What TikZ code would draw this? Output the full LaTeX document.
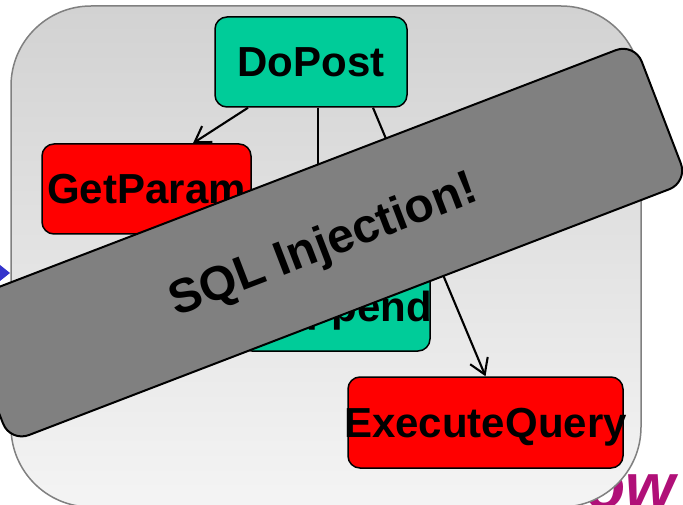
\documentclass[tikz,border=0pt]{standalone}
\usepackage{fontspec}
\setmainfont{Liberation Sans}
\usetikzlibrary{arrows.meta}

\definecolor{boxgreen}{RGB}{0,204,153}
\definecolor{boxred}{RGB}{255,0,0}
\definecolor{bannergray}{RGB}{128,128,128}
\definecolor{framegray}{RGB}{128,128,128}
\definecolor{bgtop}{RGB}{210,210,210}
\definecolor{bgbottom}{RGB}{244,244,244}
\definecolor{arrowblue}{RGB}{51,51,204}
\definecolor{titlepink}{RGB}{176,16,120}

\begin{document}
\begin{tikzpicture}[x=1pt,y=-1pt,
 procbox/.style={draw=black,line width=1.5pt,rounded corners=12pt,inner sep=0pt,
   text height=30pt,text depth=0pt,font=\fontsize{42}{42}\selectfont\bfseries},
 flow/.style={draw=black,line width=2.1pt,
   -{Straight Barb[length=15pt,width=19pt,line width=2.1pt]}},
 bannerbox/.style={draw=black,line width=2pt,fill=bannergray,rounded corners=20pt,
   inner sep=0pt,font=\fontsize{48}{48}\selectfont\bfseries,text height=34pt,text depth=0pt},
]
\useasboundingbox (0,0) rectangle (683,505);
\node[font=\fontsize{64}{64}\selectfont\bfseries\itshape, text=titlepink, anchor=base west, inner sep=0pt] (title) at (586,508) {ow};
\fill[arrowblue] (0,265) -- (10,273) -- (0,281) -- cycle;
\path[draw=framegray, line width=1.5pt, top color=bgtop, bottom color=bgbottom, rounded corners=80pt] (11,6) rectangle (641,507);

\node[procbox, fill=boxgreen, minimum width=192pt, minimum height=90pt] (dopost) at (311,62) {DoPost};
\node[procbox, fill=boxred, minimum width=209pt, minimum height=90pt] (getparam) at (146.5,189) {\makebox[0pt]{GetParam}};
\node[procbox, fill=boxgreen, minimum width=190pt, minimum height=89pt] (append) at (335,306.5) {\makebox[0pt]{\hspace{38pt}Append}};
\node[procbox, fill=boxred, minimum width=275pt, minimum height=91pt] (execq) at (485.5,422.5) {\makebox[0pt]{ExecuteQuery}};

\draw[flow] ([xshift=-63pt]dopost.south) -- ([xshift=46.5pt]getparam.north);
\draw[flow] ([xshift=7pt]dopost.south) -- ([xshift=-17pt]append.north);
\draw[flow] ([xshift=62pt]dopost.south) -- (execq.north);

\node[bannerbox, rotate=21, minimum width=726pt, minimum height=149pt] (banner) at (322.4,242.6) {SQL Injection!};
\end{tikzpicture}
\end{document}
